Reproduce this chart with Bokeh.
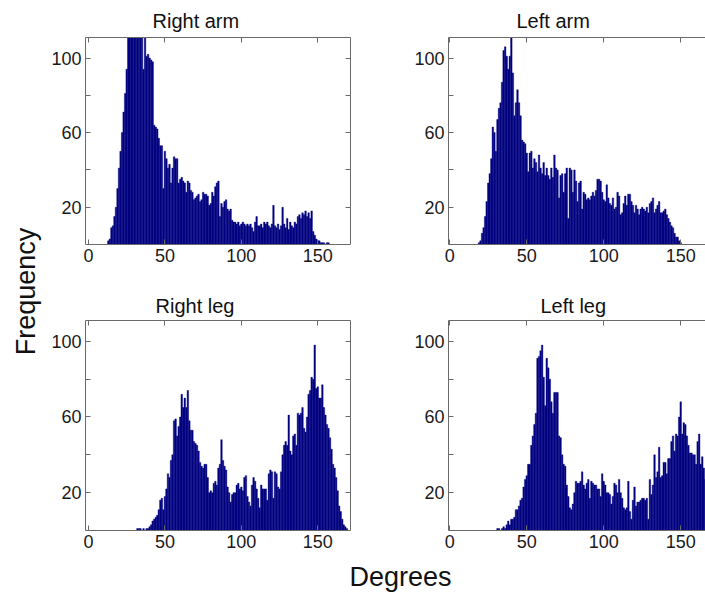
from math import pi
from bokeh.plotting import figure
from bokeh.layouts import row, column
from bokeh.models import FixedTicker, LinearAxis, Range1d
from bokeh.core.properties import value
from bokeh.embed import file_html
from bokeh.resources import INLINE

# ---- data (1-degree bins, first bin centre + counts) ----
right_arm_start = 13
right_arm = [2, 3, 9, 10, 15, 20, 30, 41, 50, 60, 71, 81, 94, 118, 125, 130, 128, 135, 132, 126,
             130, 122, 116, 94, 114, 101, 102, 100, 99, 98, 64, 63, 62, 57, 53, 53, 30, 50, 46, 41,
             43, 33, 41, 47, 46, 46, 33, 35, 36, 34, 33, 28, 34, 33, 29, 28, 24, 25, 26, 27,
             23, 24, 28, 27, 27, 26, 21, 22, 28, 26, 31, 33, 34, 15, 22, 20, 23, 24, 19, 18,
             19, 13, 12, 12, 11, 12, 10, 11, 12, 11, 10, 11, 10, 11, 9, 7, 12, 15, 10, 10,
             11, 9, 12, 11, 12, 10, 9, 11, 21, 10, 9, 11, 8, 10, 20, 11, 9, 14, 8, 12,
             10, 9, 12, 11, 15, 16, 14, 17, 16, 18, 15, 17, 14, 18, 7, 5, 3, 2, 2, 1,
             1, 1, 0, 1, 1]

left_arm_start = 17
left_arm = [0, 0, 1, 2, 6, 9, 15, 23, 33, 38, 46, 63, 60, 50, 67, 73, 76, 87, 104, 106,
            101, 94, 101, 112, 92, 69, 76, 83, 76, 69, 56, 55, 54, 49, 39, 49, 50, 41, 46, 44,
            39, 48, 41, 38, 44, 37, 41, 37, 35, 41, 36, 48, 41, 40, 25, 37, 38, 28, 38, 41,
            14, 41, 40, 28, 40, 34, 23, 33, 34, 19, 28, 27, 24, 25, 24, 26, 28, 26, 29, 35,
            35, 34, 28, 24, 23, 32, 25, 22, 21, 25, 19, 20, 28, 26, 16, 17, 22, 26, 21, 27,
            27, 23, 21, 17, 21, 19, 16, 19, 20, 19, 18, 20, 17, 22, 23, 25, 17, 19, 21, 23,
            17, 17, 18, 19, 16, 14, 12, 10, 9, 6, 4, 4, 2, 1]

right_leg_start = 32
right_leg = [1, 1, 1, 0, 1, 0, 1, 1, 2, 3, 5, 6, 7, 8, 11, 16, 17, 11, 18, 22,
             30, 28, 37, 40, 58, 59, 50, 55, 60, 72, 65, 70, 65, 74, 58, 53, 53, 47, 46, 45,
             42, 36, 34, 33, 35, 35, 28, 20, 21, 20, 25, 26, 24, 33, 35, 48, 37, 34, 32, 23,
             20, 15, 19, 20, 20, 24, 25, 22, 23, 21, 28, 29, 18, 15, 13, 24, 28, 26, 22, 17,
             12, 24, 22, 22, 22, 16, 30, 32, 31, 17, 31, 30, 23, 22, 31, 40, 45, 47, 45, 61,
             42, 40, 50, 51, 45, 62, 61, 62, 65, 54, 52, 60, 72, 74, 81, 80, 98, 75, 76, 70,
             70, 77, 65, 61, 56, 54, 49, 43, 35, 33, 28, 21, 13, 10, 6, 3, 2, 1]

left_leg_start = 30
left_leg = [0, 1, 1, 0, 1, 2, 1, 3, 5, 3, 6, 6, 7, 11, 11, 13, 16, 17, 23, 27,
            29, 35, 35, 45, 50, 56, 62, 91, 92, 95, 98, 81, 66, 91, 86, 80, 68, 62, 73, 73,
            73, 50, 49, 40, 35, 34, 24, 18, 12, 11, 14, 20, 26, 25, 25, 26, 31, 24, 22, 25,
            27, 17, 26, 25, 24, 24, 22, 22, 18, 30, 26, 24, 20, 20, 19, 14, 18, 25, 24, 20,
            27, 20, 17, 12, 11, 12, 26, 10, 6, 16, 23, 13, 15, 15, 16, 17, 17, 16, 17, 6,
            27, 19, 24, 40, 28, 31, 44, 28, 29, 36, 36, 30, 38, 38, 47, 50, 42, 51, 50, 60,
            68, 51, 57, 56, 50, 45, 41, 41, 40, 40, 35, 47, 51, 35, 39, 33, 27, 26, 20]

x_ticks = [0, 50, 100, 150]
y_ticks = [20, 40, 60, 80, 100]
y_tick_labels = {20: "20", 40: "", 60: "60", 80: "", 100: "100"}

FONT = "Liberation Sans"
BAR = "#000080"
AXIS = "#6a6a6a"


def style_axis(ax, labels=True):
    ax.axis_line_color = AXIS
    ax.major_tick_line_color = AXIS
    ax.major_tick_in = 5
    ax.major_tick_out = 0
    ax.minor_tick_line_color = None
    ax.major_label_text_font = FONT
    if labels:
        ax.major_label_text_color = "#1a1a1a"
        ax.major_label_text_font_size = "18px"
        ax.major_label_standoff = 4
    else:
        ax.major_label_text_color = None
        ax.major_label_text_font_size = "1px"
        ax.major_label_standoff = 0


def panel(title, start, counts, xr, width, height, mbl, mbr, mbt, mbb, title_offset, title_standoff,
          right_box=True):
    p = figure(width=width, height=height, x_range=Range1d(*xr), y_range=Range1d(0, 111),
               output_backend="svg", toolbar_location=None,
               min_border_left=mbl, min_border_right=mbr, min_border_top=mbt, min_border_bottom=mbb,
               x_axis_type=None, y_axis_type=None)
    centres = list(range(start, start + len(counts)))
    p.vbar(x=centres, top=counts, width=1.0, bottom=0, fill_color=BAR, line_color=BAR, line_width=0.4)
    p.grid.visible = False
    p.outline_line_color = None
    p.background_fill_color = "white"

    xb = LinearAxis(ticker=FixedTicker(ticks=x_ticks))
    style_axis(xb)
    p.add_layout(xb, "below")
    yl = LinearAxis(ticker=FixedTicker(ticks=y_ticks), major_label_overrides=y_tick_labels)
    style_axis(yl)
    p.add_layout(yl, "left")
    xt = LinearAxis(ticker=FixedTicker(ticks=x_ticks))
    style_axis(xt, labels=False)
    p.add_layout(xt, "above")
    if right_box:
        yr = LinearAxis(ticker=FixedTicker(ticks=y_ticks))
        style_axis(yr, labels=False)
        p.add_layout(yr, "right")

    p.title.text = title
    p.title.text_font = FONT
    p.title.text_font_size = "20px"
    p.title.text_font_style = "normal"
    p.title.text_color = "#111111"
    p.title.align = "left"
    p.title.offset = title_offset
    p.title.standoff = title_standoff
    return p


# left column: frame x 83..350 ; right column: frame x 448..705
p1 = panel("Right arm", right_arm_start, right_arm, (-1.95, 171.4), 332, 282, 35, 30, 37, 38, 67, 11)
p2 = panel("Left arm", left_arm_start, left_arm, (-0.8, 166.1), 325, 282, 68, 0, 37, 38, 68, 11,
           right_box=False)
p3 = panel("Right leg", right_leg_start, right_leg, (-1.95, 171.4), 332, 274, 35, 30, 38, 26, 70, 8)
p4 = panel("Left leg", left_leg_start, left_leg, (-0.8, 166.1), 325, 274, 68, 0, 38, 26, 92, 8,
           right_box=False)

# y-axis label figure
fq = figure(width=48, height=594, x_range=Range1d(0, 48), y_range=Range1d(0, 594),
            output_backend="svg", toolbar_location=None, min_border=0,
            x_axis_type=None, y_axis_type=None, outline_line_color=None)
fq.grid.visible = False
fq.text(x=[25], y=[303], text=["Frequency"], angle=pi / 2, text_align="center",
        text_baseline="middle", text_font=value(FONT), text_font_size="27px", text_color="#111111")

# x-axis label figure
dg = figure(width=657, height=38, x_range=Range1d(0, 657), y_range=Range1d(0, 38),
            output_backend="svg", toolbar_location=None, min_border=0,
            x_axis_type=None, y_axis_type=None, outline_line_color=None)
dg.grid.visible = False
dg.text(x=[352], y=[18], text=["Degrees"], text_align="center", text_baseline="middle",
        text_font=value(FONT), text_font_size="27px", text_color="#111111")

layout = row(fq, column(row(p1, p2), row(p3, p4), dg))

open("out.html", "w").write(file_html(layout, INLINE))
